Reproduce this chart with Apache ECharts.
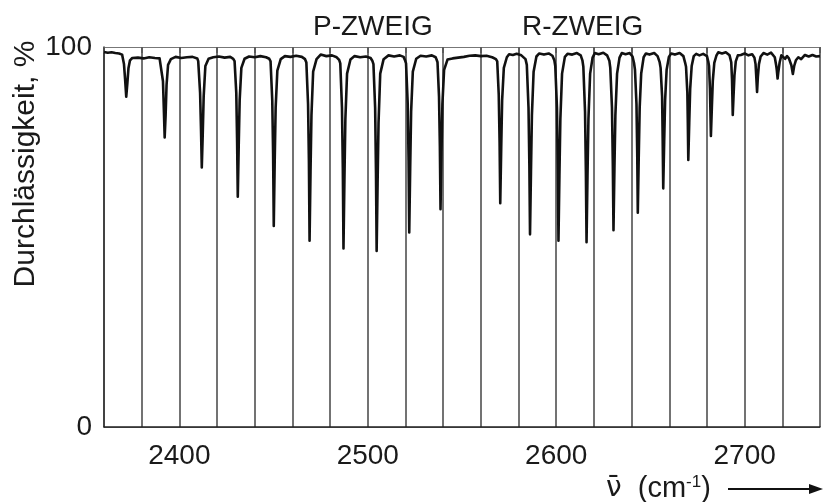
<!DOCTYPE html>
<html>
<head>
<meta charset="utf-8">
<script src="https://cdn.jsdelivr.net/npm/echarts@6/dist/echarts.min.js"></script>
<style>
  html, body { margin: 0; padding: 0; background: #fff; }
  #chart { width: 823px; height: 502px; }
</style>
</head>
<body>
<div id="chart"></div>
<script>
// spectrum: wavenumber (cm-1) and transmission (%)
const wavenumbers = [
  2360, 2362, 2364, 2366, 2368, 2369.6, 2370.6, 2371.2, 2371.8, 2372.4, 2373.0, 2373.8, 2375,
  2378, 2381, 2384, 2387, 2389.5, 2390.4, 2391.3, 2391.8, 2392.2, 2392.7, 2393.2, 2394.0, 2395.5,
  2398, 2401, 2404, 2407, 2409.5, 2410.0, 2411.0, 2411.5, 2411.9, 2412.4, 2412.9, 2413.8, 2415.5,
  2418, 2421, 2424, 2427, 2428.6, 2429.3, 2430.2, 2430.65, 2431.0, 2431.5, 2432.0, 2432.9, 2434.6,
  2437, 2440, 2443, 2446, 2447.7, 2448.4, 2449.3, 2449.75, 2450.1, 2450.6, 2451.1, 2452.0, 2453.8,
  2456, 2459, 2462, 2465, 2466.7, 2467.4, 2468.3, 2468.75, 2469.1, 2469.6, 2470.1, 2471.0, 2472.8,
  2475, 2478, 2481, 2483.5, 2484.8, 2485.4, 2486.3, 2486.75, 2487.1, 2487.6, 2488.1, 2489.0, 2490.8,
  2493, 2496, 2499, 2501.5, 2502.4, 2503.0, 2503.9, 2504.35, 2504.7, 2505.2, 2505.7, 2506.6, 2508.4,
  2511, 2514, 2517, 2519, 2519.7, 2520.3, 2521.2, 2521.65, 2522.0, 2522.5, 2523.0, 2523.9, 2525.7,
  2528, 2531, 2534, 2536, 2536.5, 2537.0, 2537.8, 2538.25, 2538.6, 2539.1, 2539.6, 2540.5, 2542.3,
  2545, 2548, 2551, 2554, 2557, 2560, 2563, 2566,
  2568.0, 2568.7, 2569.5, 2569.95, 2570.3, 2570.8, 2571.3, 2572.2, 2573.8,
  2575, 2577, 2579, 2581.5, 2583.7, 2584.4, 2585.3, 2585.75, 2586.1, 2586.6, 2587.1, 2588.0, 2589.5,
  2591, 2593.5, 2596, 2598, 2599.0, 2599.5, 2600.4, 2600.85, 2601.2, 2601.7, 2602.2, 2603.1, 2604.6,
  2606, 2608.5, 2611, 2613, 2613.9, 2614.4, 2615.3, 2615.75, 2616.1, 2616.6, 2617.1, 2618.0, 2619.3,
  2620.5, 2622.5, 2625, 2627, 2628.2, 2628.7, 2629.6, 2630.05, 2630.4, 2630.9, 2631.4, 2632.3, 2633.6,
  2634.8, 2636.8, 2639, 2640.5, 2641.3, 2641.8, 2642.6, 2643.0, 2643.3, 2643.8, 2644.3, 2645.1, 2646.4,
  2647.6, 2649.5, 2652, 2653.8, 2654.9, 2655.4, 2656.2, 2656.5, 2656.8, 2657.3, 2657.8, 2658.6, 2659.8,
  2661, 2663, 2665.5, 2667.5, 2668.4, 2668.9, 2669.6, 2669.85, 2670.1, 2670.6, 2671.1, 2671.9, 2673.0,
  2674.3, 2676, 2678, 2680, 2680.7, 2681.1, 2681.6, 2681.85, 2682.1, 2682.6, 2683.1, 2683.9, 2685,
  2686, 2688, 2690, 2692, 2692.9, 2693.3, 2693.5, 2693.7, 2694.1, 2694.6, 2695.3, 2696.4,
  2698, 2700, 2702, 2704, 2705.2, 2705.8, 2706.2, 2706.6, 2707.0, 2707.6, 2708.5,
  2710, 2712, 2714, 2716, 2716.8, 2717.1, 2717.5, 2717.9, 2718.6, 2719.5,
  2720.5, 2721.5, 2722.5, 2723.5, 2724.8, 2725.6, 2726.3, 2727.2,
  2728.5, 2730, 2732, 2734, 2736, 2738, 2740
];
const transmission = [
  98.7, 98.5, 98.6, 98.4, 98.3, 98.0, 95.5, 91.5, 86.9, 90.5, 94.5, 96.5, 97.1,
  97.2, 97.0, 97.3, 97.1, 97.0, 96.5, 91, 83, 76.2, 82, 90, 95.3, 96.8,
  97.4, 97.1, 97.3, 97.4, 97.0, 96.3, 88, 78, 68.3, 77, 87, 95, 96.9,
  97.3, 97.5, 97.2, 97.4, 96.9, 96.3, 88, 75, 60.6, 74, 86, 94.5, 96.9,
  97.5, 97.3, 97.6, 97.3, 96.9, 96.2, 86, 72, 52.9, 70, 84, 93.8, 96.8,
  97.6, 97.4, 97.7, 97.4, 96.8, 95.9, 85, 70, 49.0, 67, 82, 93.5, 96.8,
  98.0, 97.6, 97.8, 97.3, 96.6, 95.7, 84, 68, 47.0, 65, 81, 93, 96.7,
  97.6, 97.3, 97.5, 97.1, 96.4, 95.5, 84, 67, 46.3, 64, 80, 93, 96.8,
  97.8, 97.5, 97.8, 97.4, 96.6, 95.7, 85, 70, 51.2, 68, 83, 93.5, 96.9,
  97.7, 97.5, 97.8, 97.3, 96.7, 96.0, 87, 74, 57.3, 72, 85, 94, 96.7,
  97.0, 97.2, 97.4, 97.7, 97.8, 97.6, 97.7, 97.3,
  96.8, 96.2, 87.5, 75, 58.9, 73, 86, 94.5, 97.3,
  98.1, 97.9, 98.2, 97.8, 96.8, 95.3, 84, 69, 50.7, 67, 82, 93.5, 97.5,
  98.3, 98.0, 98.3, 97.7, 96.5, 95.0, 84, 68, 49.0, 66, 81, 93, 97.4,
  98.2, 98.0, 98.4, 97.8, 96.5, 94.8, 83, 67, 48.6, 66, 81, 93, 97.2,
  98.4, 98.1, 98.5, 97.8, 96.4, 94.5, 84, 69, 51.8, 68, 82, 93, 97.2,
  98.4, 98.1, 98.4, 97.5, 95.8, 94.0, 85, 72, 56.4, 71, 84, 93, 97.3,
  98.3, 98.0, 98.4, 97.6, 96.0, 94.5, 87, 76, 62.8, 75, 86, 94, 97.4,
  98.3, 98.0, 98.4, 97.6, 95.9, 94.8, 88, 80, 70.3, 80, 89, 95, 97.6,
  98.2, 97.8, 98.2, 97.6, 96.2, 95.0, 89, 83, 76.6, 84, 91, 95.8, 97.7,
  98.6, 98.3, 98.6, 97.8, 96.0, 91.5, 87, 82.1, 87, 92.5, 96.2, 97.8,
  97.9, 98.3, 97.8, 98.1, 97.2, 95.5, 92, 88.2, 92, 95.5, 97.5,
  98.4, 98.0, 98.5, 97.3, 95.0, 93.8, 91.7, 93.5, 96.0, 97.8,
  98.0, 96.9, 97.6, 97.0, 95.2, 92.9, 95.0, 96.5,
  97.3, 96.8, 97.9, 97.5, 97.9, 97.5, 97.6
];
const xTickLabels = [2400, 2500, 2600, 2700];
const yTickLabels = [0, 100];
const branchNames = ['P-ZWEIG', 'R-ZWEIG'];
const yTitle = 'Durchlässigkeit, %';

const font = 'Liberation Sans';
const chart = echarts.init(document.getElementById('chart'));

chart.setOption({
  animation: false,
  backgroundColor: '#fff',
  grid: { left: 104, right: 0, top: 47, bottom: 75 },
  xAxis: [
    {
      type: 'value',
      min: 2360,
      max: 2740,
      interval: 20,
      axisLine: { show: true, lineStyle: { color: '#222', width: 1.5 } },
      axisTick: { show: false },
      axisLabel: {
        margin: 15,
        fontSize: 28,
        fontFamily: font,
        color: '#1a1a1a',
        formatter: v => (xTickLabels.includes(v) ? String(v) : '')
      },
      splitLine: { show: true, lineStyle: { color: '#444', width: 1.5 } }
    },
    {
      type: 'value',
      position: 'top',
      min: 2360,
      max: 2740,
      interval: 20,
      axisLine: { show: true, lineStyle: { color: '#777', width: 1 } },
      axisTick: { show: true, inside: true, length: 6, lineStyle: { color: '#555', width: 1.5 } },
      axisLabel: { show: false },
      splitLine: { show: false }
    }
  ],
  yAxis: {
    type: 'value',
    min: 0,
    max: 100,
    interval: 100,
    axisLine: { show: true, lineStyle: { color: '#333', width: 1.5 } },
    axisTick: { show: false },
    axisLabel: {
      margin: 12,
      fontSize: 28,
      fontFamily: font,
      color: '#1a1a1a',
      formatter: v => (yTickLabels.includes(v) ? String(v) : '')
    },
    splitLine: { show: true, lineStyle: { color: '#777', width: 1 } }
  },
  series: [{
    type: 'line',
    data: wavenumbers.map((w, i) => [w, transmission[i]]),
    showSymbol: false,
    symbol: 'none',
    smooth: false,
    lineStyle: { color: '#111', width: 2.6, join: 'round' },
    z: 5
  }],
  graphic: [
    { type: 'text', x: 313, y: 27, style: { text: branchNames[0], fontSize: 28, fontFamily: font, fill: '#1a1a1a', align: 'left', verticalAlign: 'middle' } },
    { type: 'text', x: 522, y: 27, style: { text: branchNames[1], fontSize: 28, fontFamily: font, fill: '#1a1a1a', align: 'left', verticalAlign: 'middle' } },
    { type: 'text', x: 26, y: 164, rotation: Math.PI / 2, style: { text: yTitle, fontSize: 30, fontFamily: font, fill: '#1a1a1a', align: 'center', verticalAlign: 'middle' } },
    {
      type: 'text', x: 606, y: 489,
      style: {
        text: '{n|ν̄}{a|  (cm}{s|-1}{a|)}',
        align: 'left', verticalAlign: 'middle',
        rich: {
          n: { fontSize: 28, fontFamily: 'DejaVu Sans', fill: '#1a1a1a' },
          a: { fontSize: 29, fontFamily: font, fill: '#1a1a1a' },
          s: { fontSize: 17, fontFamily: font, fill: '#1a1a1a', padding: [0, 0, 14, 0] }
        }
      }
    },
    { type: 'line', shape: { x1: 728, y1: 489, x2: 812, y2: 489 }, style: { stroke: '#111', lineWidth: 2 } },
    { type: 'polygon', shape: { points: [[823, 489], [809, 484], [809, 494]] }, style: { fill: '#111' } }
  ]
});
</script>
</body>
</html>
